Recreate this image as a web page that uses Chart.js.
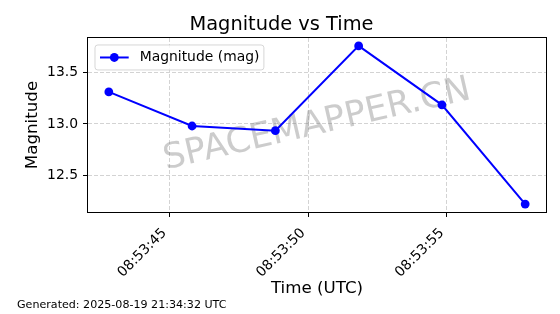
<!DOCTYPE html>
<html>
<head>
<meta charset="utf-8">
<script src="https://cdn.jsdelivr.net/npm/chart.js@4.4.1/dist/chart.umd.min.js"></script>
<style>
    html, body { margin: 0; padding: 0; background: #fff; }
    #wrap { width: 560px; height: 314px; }
</style>
</head>
<body>
<div id="wrap"><canvas id="magChart" width="560" height="314"></canvas></div>
<script>
// data
const times = ['08:53:42.82', '08:53:45.82', '08:53:48.82', '08:53:51.82', '08:53:54.82', '08:53:57.82'];
const magnitudes = [13.31, 12.98, 12.935, 13.756, 13.185, 12.224];
const xTickLabels = ['08:53:45', '08:53:50', '08:53:55'];
const yTicks = [12.5, 13.0, 13.5];

const toSec = (t) => {
    const [h, m, s] = t.split(':');
    return (+h) * 3600 + (+m) * 60 + parseFloat(s);
};

const xSecs = times.map(toSec);
const xTickSecs = xTickLabels.map(toSec);

// matplotlib-like 5% margins
const xPad = (Math.max(...xSecs) - Math.min(...xSecs)) * 0.05;
const yPad = (Math.max(...magnitudes) - Math.min(...magnitudes)) * 0.05;

Chart.defaults.font.family = '"DejaVu Sans", sans-serif';
Chart.defaults.color = '#000';

const gridColor = 'rgba(176,176,176,0.7)';

// box around the axes + watermark (under the line)
const frameAndMark = {
    id: 'frameAndMark',
    beforeDatasetsDraw(chart) {
        const { ctx, chartArea: a } = chart;
        ctx.save();
        ctx.translate((a.left + a.right) / 2, (a.top + a.bottom) / 2);
        ctx.rotate(-13 * Math.PI / 180);
        ctx.font = '35px "DejaVu Sans"';
        ctx.fillStyle = 'rgba(128,128,128,0.4)';
        ctx.textAlign = 'center';
        ctx.textBaseline = 'middle';
        ctx.fillText('SPACEMAPPER.CN', 0, 0);
        ctx.restore();
    },
    afterDatasetsDraw(chart) {
        const { ctx, chartArea: a } = chart;
        ctx.save();
        ctx.strokeStyle = '#000';
        ctx.lineWidth = 1;
        ctx.strokeRect(Math.round(a.left) - 0.5, Math.round(a.top) - 0.5,
            Math.round(a.right - a.left) + 1, Math.round(a.bottom - a.top) + 1);

        // legend, matplotlib style, top-left inside the axes
        const ds = chart.data.datasets[0];
        ctx.font = '13.9px "DejaVu Sans"';
        const tw = ctx.measureText(ds.label).width;
        const x0 = a.left + 7, y0 = a.top + 7;
        const w = 44.7 + tw + 4.5, h = 25, r = 2.8;
        ctx.beginPath();
        ctx.moveTo(x0 + r, y0);
        ctx.lineTo(x0 + w - r, y0);
        ctx.arcTo(x0 + w, y0, x0 + w, y0 + r, r);
        ctx.lineTo(x0 + w, y0 + h - r);
        ctx.arcTo(x0 + w, y0 + h, x0 + w - r, y0 + h, r);
        ctx.lineTo(x0 + r, y0 + h);
        ctx.arcTo(x0, y0 + h, x0, y0 + h - r, r);
        ctx.lineTo(x0, y0 + r);
        ctx.arcTo(x0, y0, x0 + r, y0, r);
        ctx.closePath();
        ctx.fillStyle = 'rgba(255,255,255,0.8)';
        ctx.fill();
        ctx.strokeStyle = 'rgba(204,204,204,0.8)';
        ctx.stroke();

        const ym = y0 + h / 2;
        ctx.strokeStyle = ds.borderColor;
        ctx.lineWidth = ds.borderWidth;
        ctx.beginPath();
        ctx.moveTo(x0 + 5, ym);
        ctx.lineTo(x0 + 33.7, ym);
        ctx.stroke();
        ctx.fillStyle = ds.pointBackgroundColor;
        ctx.beginPath();
        ctx.arc(x0 + 19.3, ym, ds.pointRadius, 0, Math.PI * 2);
        ctx.fill();

        ctx.fillStyle = '#000';
        ctx.textAlign = 'left';
        ctx.textBaseline = 'middle';
        ctx.fillText(ds.label, x0 + 44.7, ym);
        ctx.restore();
    }
};

const ctx = document.getElementById('magChart');

new Chart(ctx, {
    type: 'line',
    data: {
        datasets: [{
            label: 'Magnitude (mag)',
            data: xSecs.map((x, i) => ({ x: x, y: magnitudes[i] })),
            borderColor: '#0000ff',
            borderWidth: 2,
            pointRadius: 4.4,
            pointBorderWidth: 0,
            pointBackgroundColor: '#0000ff',
            tension: 0,
            fill: false
        }]
    },
    options: {
        responsive: false,
        animation: false,
        devicePixelRatio: 1,
        layout: { padding: { left: 17, right: 14, top: 0, bottom: 0 } },
        plugins: {
            legend: { display: false },
            tooltip: { enabled: false },
            title: {
                display: true,
                text: 'Magnitude vs Time',
                color: '#000',
                font: { size: 19.4, weight: 'normal', lineHeight: 1.2 },
                padding: { top: 13.2, bottom: 1.5 }
            },
            subtitle: {
                display: true,
                position: 'bottom',
                align: 'start',
                text: 'Generated: 2025-08-19 21:34:32 UTC',
                color: '#000',
                font: { size: 11.1, lineHeight: 1.2 },
                padding: { top: 0, bottom: 2.3 }
            }
        },
        scales: {
            x: {
                type: 'linear',
                min: Math.min(...xSecs) - xPad,
                max: Math.max(...xSecs) + xPad,
                afterFit: (s) => { s.height = 86.4; },
                afterBuildTicks: (s) => { s.ticks = xTickSecs.map(v => ({ value: v })); },
                ticks: {
                    autoSkip: false,
                    minRotation: 45,
                    maxRotation: 45,
                    padding: 8,
                    labelOffset: -5,
                    color: '#000',
                    font: { size: 13.9 },
                    callback: (v, i) => xTickLabels[i]
                },
                grid: {
                    color: gridColor,
                    lineWidth: 0.8,
                    tickLength: 5,
                    tickColor: '#000',
                    tickWidth: 1,
                    tickBorderDash: [1, 0]
                },
                border: { display: false, dash: [4, 2] },
                title: {
                    display: true,
                    text: 'Time (UTC)',
                    color: '#000',
                    font: { size: 16.7, lineHeight: 1.2 },
                    padding: { top: 0, bottom: 0 }
                }
            },
            y: {
                min: Math.min(...magnitudes) - yPad,
                max: Math.max(...magnitudes) + yPad,
                afterFit: (s) => { s.width = 71; },
                afterBuildTicks: (s) => { s.ticks = yTicks.map(v => ({ value: v })); },
                ticks: {
                    padding: 5,
                    color: '#000',
                    font: { size: 13.9 },
                    callback: (v) => v.toFixed(1)
                },
                grid: {
                    color: gridColor,
                    lineWidth: 0.8,
                    tickLength: 5,
                    tickColor: '#000',
                    tickWidth: 1,
                    tickBorderDash: [1, 0]
                },
                border: { display: false, dash: [4, 2] },
                title: {
                    display: true,
                    text: 'Magnitude',
                    color: '#000',
                    font: { size: 16.7, lineHeight: 1.2 },
                    padding: { top: 6, bottom: 0 }
                }
            }
        }
    },
    plugins: [frameAndMark]
});
</script>
</body>
</html>
